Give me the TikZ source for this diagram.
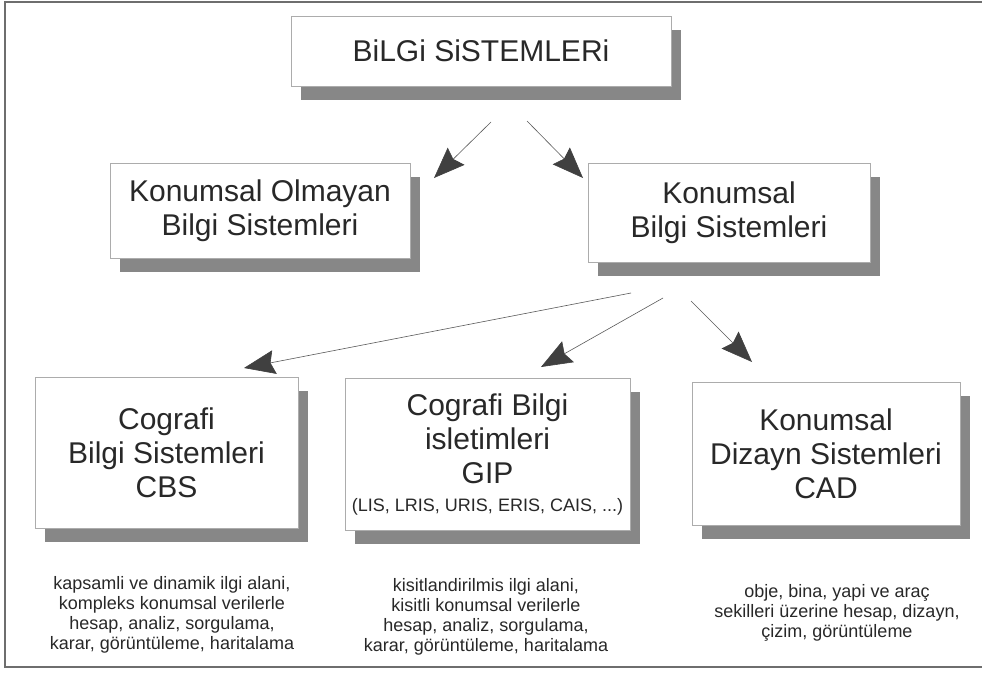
\documentclass[tikz,border=0pt]{standalone}
\usepackage{fontspec}
\setmainfont{Liberation Sans}
\usetikzlibrary{arrows.meta, shadows, positioning}
\definecolor{Metin}{RGB}{40,40,40}
\definecolor{Golge}{RGB}{135,135,135}
\definecolor{Cerceve}{RGB}{110,110,110}

\begin{document}
\begin{tikzpicture}[x=1pt, y=-1pt,
	kutu/.style={rectangle, draw=gray!65, line width=0.5pt, fill=white, align=center, text=Metin, inner sep=0pt,
		font=\fontsize{30}{34}\selectfont, drop shadow={shadow xshift=10pt, shadow yshift=-14pt, fill=Golge, opacity=1}},
	aciklama/.style={align=center, text=Metin, inner sep=0pt, font=\fontsize{18}{20}\selectfont},
	ok/.style={-{Stealth[length=31pt, width=24pt, inset=4pt, color=black!75]}, line width=0.6pt, gray!70!black}]

	\useasboundingbox (0,0) rectangle (982,680);
	\draw[line width=1.5pt, Cerceve] (984,2) -- (5,2) -- (5,667) -- (984,667);

	\node[kutu, minimum width=380pt, minimum height=70pt] (bs) at (481,51) {BiLGi SiSTEMLERi};

	\node[kutu, minimum width=300pt, minimum height=95pt] (kob) at (260,210.5) {Konumsal Olmayan\\Bilgi Sistemleri};
	\node[kutu, minimum width=282pt, minimum height=99pt] (kb) at (729,212.5) {Konumsal\\Bilgi Sistemleri};

	\node[kutu, minimum width=263pt, minimum height=151pt] (cbs) at (166.5,452.5) {Cografi\\Bilgi Sistemleri\\CBS};
	\node[kutu, minimum width=285pt, minimum height=152pt] (gip) at (487.5,454) {Cografi Bilgi\\isletimleri\\GIP\\[-6pt]{\fontsize{18}{20}\selectfont (LIS, LRIS, URIS, ERIS, CAIS, ...)}};
	\node[kutu, minimum width=268pt, minimum height=143pt] (cad) at (826,453.5) {Konumsal\\Dizayn Sistemleri\\CAD};

	\node[aciklama] (d1) at (172,615) {kapsamli ve dinamik ilgi alani,\\kompleks konumsal verilerle\\hesap, analiz, sorgulama,\\karar, görüntüleme, haritalama};
	\node[aciklama] (d2) at (486,617) {kisitlandirilmis ilgi alani,\\kisitli konumsal verilerle\\hesap, analiz, sorgulama,\\karar, görüntüleme, haritalama};
	\node[aciklama] (d3) at (837,613) {obje, bina, yapi ve araç\\sekilleri üzerine hesap, dizayn,\\çizim, görüntüleme};

	% ok uclari
	\coordinate (o1) at (491,122); \coordinate (u1) at (434,178);
	\coordinate (o2) at (527,121); \coordinate (u2) at (583,178);
	\coordinate (o3) at (631,293); \coordinate (u3) at (244,368);
	\coordinate (o4) at (663,298); \coordinate (u4) at (541,367);
	\coordinate (o5) at (691,301); \coordinate (u5) at (752,362);
	\foreach \i in {1,...,5}{\draw[ok] (o\i) -- (u\i);}
\end{tikzpicture}
\end{document}
